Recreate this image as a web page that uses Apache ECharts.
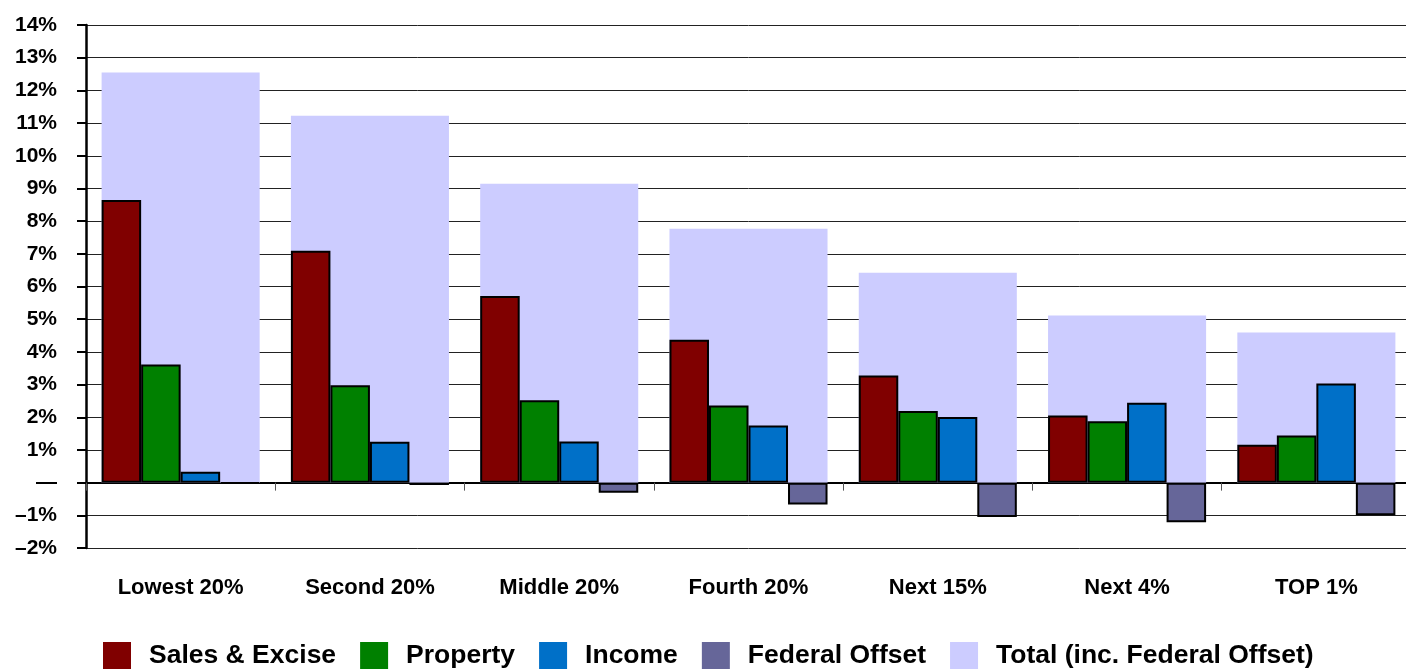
<!DOCTYPE html>
<html>
<head>
<meta charset="utf-8">
<script src="https://cdn.jsdelivr.net/npm/echarts@6/dist/echarts.min.js"></script>
<style>html,body{margin:0;padding:0;background:#fff;overflow:hidden;width:1406px;height:669px}#c{width:1411px;height:669px}</style>
</head>
<body>
<div id="c"></div>
<script>
const categories = ['Lowest 20%', 'Second 20%', 'Middle 20%', 'Fourth 20%', 'Next 15%', 'Next 4%', 'TOP 1%'];
const salesExcise = [8.65, 7.09, 5.71, 4.37, 3.28, 2.05, 1.16];
const property = [3.61, 2.98, 2.52, 2.36, 2.19, 1.88, 1.44];
const income = [0.33, 1.25, 1.26, 1.75, 2.01, 2.44, 3.03];
const federalOffset = [-0.03, -0.07, -0.31, -0.67, -1.05, -1.21, -1.0];
const total = [12.55, 11.22, 9.14, 7.77, 6.42, 5.11, 4.59];
const seriesNames = ['Sales & Excise', 'Property', 'Income', 'Federal Offset', 'Total (inc. Federal Offset)'];

const FONT = "'Liberation Sans', Arial, Helvetica, sans-serif";
const chart = echarts.init(document.getElementById('c'), null, {renderer: 'canvas'});
const gap = '16.5%';
const sub = (name, data, color) => ({
  name, type: 'bar', data, xAxisIndex: 0, barGap: '0%', barCategoryGap: gap,
  itemStyle: {color, borderColor: '#000', borderWidth: 2}
});
chart.setOption({
  animation: false,
  grid: {left: 86, right: 0, top: 25, bottom: 121, containLabel: false},
  legend: {
    data: seriesNames, left: 103, top: 642, padding: 0, icon: 'rect', itemWidth: 28, itemHeight: 28, itemGap: 24,
    itemStyle: {borderWidth: 0},
    textStyle: {fontFamily: FONT, fontWeight: 'bold', fontSize: 26.5, color: '#000', padding: [0, 0, 0, 13]}
  },
  xAxis: [
    {type: 'category', data: categories, position: 'bottom',
     axisLine: {onZero: true, lineStyle: {color: '#000', width: 2}},
     axisTick: {show: true, length: 8, lineStyle: {color: '#555', width: 1}},
     axisLabel: {show: false}, splitLine: {show: false}},
    {type: 'category', data: categories, position: 'bottom',
     axisLine: {show: false, onZero: false}, axisTick: {show: false},
     axisLabel: {margin: 29, fontFamily: FONT, fontWeight: 'bold', fontSize: 22, color: '#000'},
     splitLine: {show: false}}
  ],
  yAxis: {
    type: 'value', min: -2, max: 14, interval: 1,
    axisLine: {show: true, lineStyle: {color: '#000', width: 2.5}},
    axisTick: {show: true, length: 9, lineStyle: {color: '#000', width: 2}},
    axisLabel: {margin: 29, fontFamily: FONT, fontWeight: 'bold', fontSize: 21, color: '#000',
      formatter: v => v === 0 ? '—' : (v < 0 ? '–' + Math.abs(v) + '%' : v + '%')},
    splitLine: {show: true, lineStyle: {color: '#222', width: 1}}
  },
  series: [
    {name: seriesNames[4], type: 'bar', data: total, xAxisIndex: 1, barCategoryGap: gap,
     itemStyle: {color: '#CCCCFF'}},
    sub(seriesNames[0], salesExcise, '#800000'),
    sub(seriesNames[1], property, '#008000'),
    sub(seriesNames[2], income, '#0070C8'),
    sub(seriesNames[3], federalOffset, '#666699')
  ]
});
</script>
</body>
</html>
